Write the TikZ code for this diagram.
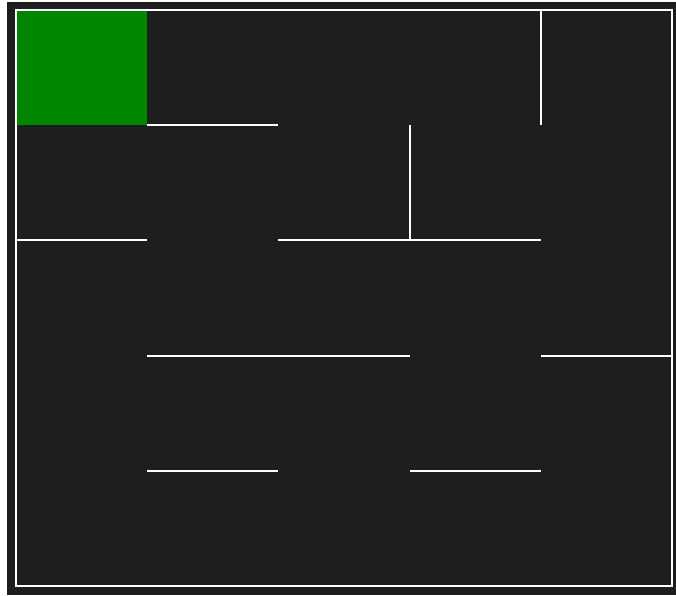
\documentclass[tikz,border=0pt]{standalone}
\definecolor{bgdark}{RGB}{30,30,30}
\definecolor{goalgreen}{RGB}{0,134,0}
\tikzset{wall/.style={draw=white, line width=2pt}}
\begin{document}
\begin{tikzpicture}[x=1pt,y=-1pt]
% page and background
\fill[white] (0,0) rectangle (676,595);
\fill[bgdark] (7,1.5) rectangle (676,595);
\useasboundingbox (0,0) rectangle (676,595);
\begin{scope}[shift={(16,10)}, x=131.2pt, y=-115.2pt]
% start cell
\fill[goalgreen] (0,0) rectangle (1,1);
% outer frame
\draw[wall] (0,0) rectangle (5,5);
% inner walls
\draw[wall] (4,0) -- (4,1);
\draw[wall] (1,1) -- (2,1);
\draw[wall] (3,1) -- (3,2);
\draw[wall] (0,2) -- (1,2);
\draw[wall] (2,2) -- (4,2);
\draw[wall] (1,3) -- (3,3);
\draw[wall] (4,3) -- (5,3);
\draw[wall] (1,4) -- (2,4);
\draw[wall] (3,4) -- (4,4);
\end{scope}
\end{tikzpicture}
\end{document}
